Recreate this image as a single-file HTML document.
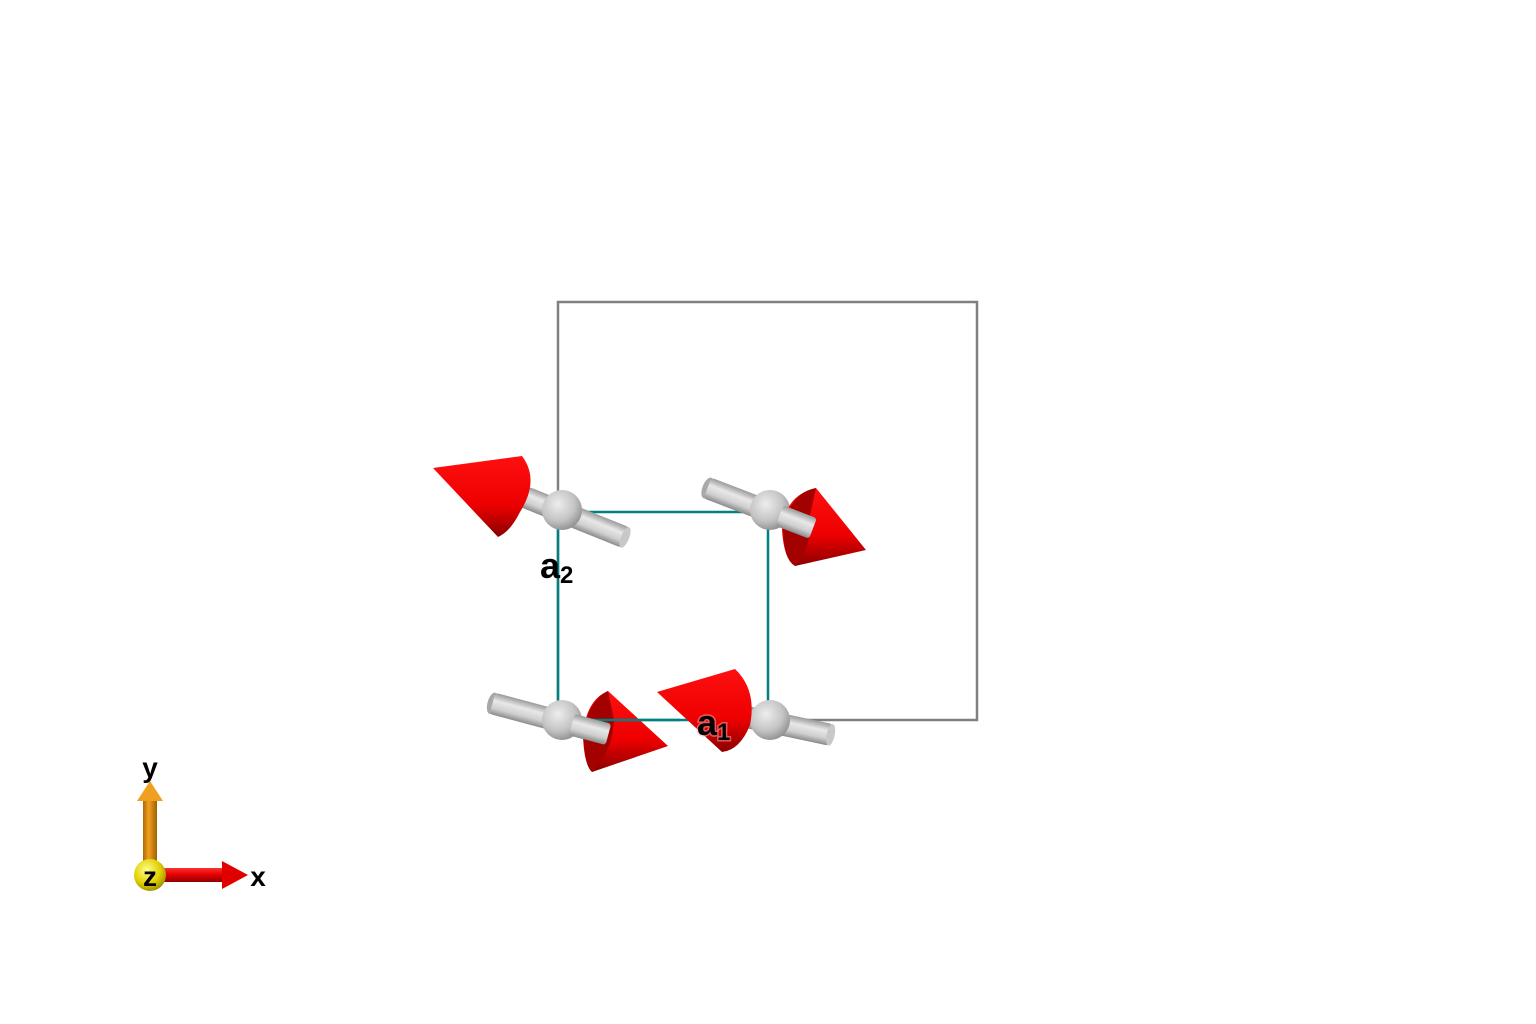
<!DOCTYPE html>
<html><head><meta charset="utf-8"><style>
html,body{margin:0;padding:0;background:#fff;width:1536px;height:1024px;overflow:hidden}
svg{display:block}
text{font-family:"Liberation Sans",sans-serif;font-weight:bold}
</style></head><body>
<svg width="1536" height="1024" viewBox="0 0 1536 1024">
<defs>
<linearGradient id="cyl" x1="0" y1="0" x2="0" y2="1">
<stop offset="0" stop-color="#9a9a9a"/><stop offset="0.35" stop-color="#e8e8e8"/><stop offset="0.7" stop-color="#cfcfcf"/><stop offset="1" stop-color="#8a8a8a"/></linearGradient>
<radialGradient id="sph" cx="0.4" cy="0.35" r="0.7">
<stop offset="0" stop-color="#ededed"/><stop offset="0.6" stop-color="#c4c4c4"/><stop offset="1" stop-color="#8c8c8c"/></radialGradient>
<linearGradient id="cone" x1="0" y1="0" x2="0" y2="1">
<stop offset="0" stop-color="#ff1010"/><stop offset="0.6" stop-color="#ee0000"/><stop offset="1" stop-color="#8a0000"/></linearGradient>
<radialGradient id="ysph" cx="0.4" cy="0.35" r="0.7">
<stop offset="0" stop-color="#ffff90"/><stop offset="0.6" stop-color="#e0d000"/><stop offset="1" stop-color="#9a8a00"/></radialGradient>
<linearGradient id="ycyl" x1="0" y1="0" x2="1" y2="0">
<stop offset="0" stop-color="#b06800"/><stop offset="0.4" stop-color="#f0a020"/><stop offset="1" stop-color="#a06000"/></linearGradient>
<linearGradient id="xcyl" x1="0" y1="0" x2="0" y2="1">
<stop offset="0" stop-color="#ff3030"/><stop offset="0.5" stop-color="#e00000"/><stop offset="1" stop-color="#900000"/></linearGradient>
</defs>

<polyline points="558,720 558,302 977,302 977,720 768,720" fill="none" stroke="#808080" stroke-width="2.5"/>
<rect x="558" y="512" width="210" height="208" fill="none" stroke="#008080" stroke-width="2.5"/>

<g>
<g transform="translate(562,512) rotate(22)"><rect x="-40" y="-11" width="108" height="22" rx="3" fill="url(#cyl)"/><ellipse cx="68" cy="0" rx="4" ry="11" fill="#c8c8c8"/></g>
<circle cx="562" cy="510" r="20" fill="url(#sph)"/>
<path d="M433,468 L522,456 Q540,480 520,512 Q510,532 498,537 Z" fill="url(#cone)"/>
</g>

<g>
<g transform="translate(770,512) rotate(21)"><ellipse cx="-67" cy="0" rx="5" ry="11" fill="#a8a8a8"/><rect x="-67" y="-11" width="112" height="22" rx="3" fill="url(#cyl)"/></g>
<circle cx="770" cy="510" r="20" fill="url(#sph)"/>
<path d="M866,550 L816,488 Q785,495 782,530 Q784,560 795,566 Z" fill="url(#cone)"/>
<path d="M816,488 Q790,493 783,528 Q784,560 796,566 Q812,548 810,515 Z" fill="#a30000"/>
<g transform="translate(770,512) rotate(21)"><rect x="10" y="-11" width="36" height="22" rx="3" fill="url(#cyl)"/></g>
</g>

<g>
<g transform="translate(562,722) rotate(15)"><ellipse cx="-72" cy="0" rx="5" ry="11" fill="#a8a8a8"/><rect x="-72" y="-11" width="120" height="22" rx="3" fill="url(#cyl)"/></g>
<circle cx="562" cy="720" r="20" fill="url(#sph)"/>
<path d="M668,746 L608,691 Q586,700 583,735 Q584,765 592,772 Z" fill="url(#cone)"/>
<path d="M608,691 Q588,700 583,735 Q585,765 593,772 Q612,752 614,720 Z" fill="#a30000"/>
<line x1="578" y1="720" x2="680" y2="720" stroke="#008080" stroke-width="2.5"/>
<g transform="translate(562,722) rotate(15)"><rect x="10" y="-11" width="38" height="22" rx="3" fill="url(#cyl)"/></g>
</g>

<g>
<g transform="translate(770,722) rotate(12)"><rect x="-40" y="-11" width="102" height="22" rx="3" fill="url(#cyl)"/><ellipse cx="62" cy="0" rx="4" ry="11" fill="#c8c8c8"/></g>
<circle cx="770" cy="720" r="20" fill="url(#sph)"/>
<path d="M657,692 L735,669 Q757,690 750,725 Q740,750 722,752 Z" fill="url(#cone)"/>
</g>

<text x="540" y="578" font-size="36" fill="#000">a<tspan font-size="24" dy="5">2</tspan></text>
<text x="697" y="735" font-size="36" fill="#000" stroke="#ffb0b0" stroke-width="3" paint-order="stroke" stroke-opacity="0.5">a<tspan font-size="24" dy="5">1</tspan></text>

<g>
<rect x="143" y="800" width="14" height="75" fill="url(#ycyl)"/>
<path d="M137,801 L150,781 L163,801 Z" fill="#f0a020"/>
<rect x="150" y="868" width="78" height="14" fill="url(#xcyl)"/>
<path d="M222,861 L248,875 L222,889 Z" fill="#e00000"/>
<circle cx="150" cy="875" r="16" fill="url(#ysph)"/>
<text x="150" y="886" font-size="28" text-anchor="middle">z</text>
<text x="150" y="777" font-size="28" text-anchor="middle">y</text>
<text x="258" y="886" font-size="28" text-anchor="middle">x</text>
</g>
</svg>
</body></html>
